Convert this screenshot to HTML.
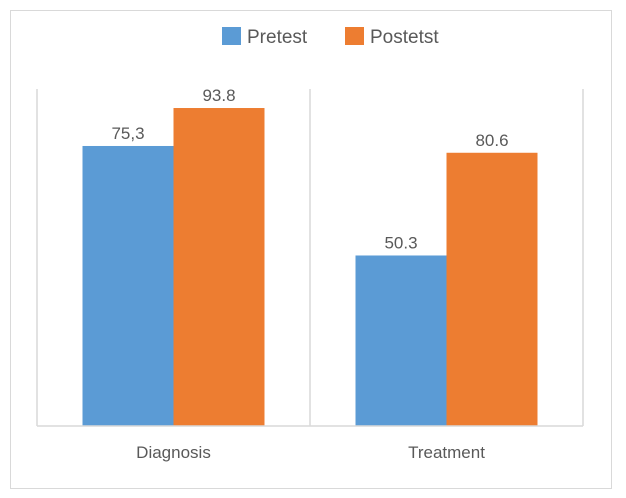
<!DOCTYPE html>
<html><head><meta charset="utf-8"><style>
body{margin:0;background:#fff;}
svg text{font-family:"Liberation Sans",sans-serif;}
</style></head><body>
<svg width="626" height="493" xmlns="http://www.w3.org/2000/svg">
<rect x="10.5" y="10.5" width="601" height="478" fill="#fff" stroke="#d9d9d9"/>
<g id="plot"></g>
</svg>
<script>
const categories=["Diagnosis","Treatment"];
const seriesNames=["Pretest","Postetst"];
const pretest=[82.6,50.3];
const postest=[93.8,80.6];
const pretestLabels=["75,3","50.3"];
const postestLabels=["93.8","80.6"];
const colors=["#5b9bd5","#ed7d31"];
const NS="http://www.w3.org/2000/svg";
const g=document.getElementById('plot');
const x0=37,x1=583,yBase=426,yTop=87,vmax=100;
const y=v=>yBase-(v/vmax)*(yBase-yTop);
const catW=(x1-x0)/categories.length;
const barW=91;
function mk(t,a){const e=document.createElementNS(NS,t);for(const k in a)e.setAttribute(k,a[k]);g.appendChild(e);return e;}
for(let i=0;i<=categories.length;i++){
  const l=mk('line',{x1:x0+i*catW,x2:x0+i*catW,y1:89,y2:yBase,stroke:'#d9d9d9','stroke-width':1.5});
  
  
}
const series=[pretest,postest],labels=[pretestLabels,postestLabels];
categories.forEach((c,i)=>{
  const cx=x0+catW*(i+0.5);
  series.forEach((s,j)=>{
    const bx=cx-barW+j*barW;
    const r=mk('rect',{x:bx,y:y(s[i]),width:barW,height:yBase-y(s[i]),fill:colors[j]});
    
    
    const t=mk('text',{x:bx+barW/2,y:y(s[i])-7,'text-anchor':'middle','font-size':17,fill:'#595959'});
    t.textContent=labels[j][i];
    
    
  });
  const t=mk('text',{x:cx,y:458,'text-anchor':'middle','font-size':17,fill:'#595959'});
  t.textContent=c;
  
  
});
const ax=mk('line',{x1:x0,x2:x1,y1:yBase,y2:yBase,stroke:'#d9d9d9','stroke-width':1.5});


const lx=[222,345];
seriesNames.forEach((n,j)=>{
  const r=mk('rect',{x:lx[j],y:27,width:19,height:18,fill:colors[j]});
  
  
  const t=mk('text',{x:lx[j]+25,y:43,'font-size':19,fill:'#595959'});
  t.textContent=n;
  
  
});
</script>
</body></html>
